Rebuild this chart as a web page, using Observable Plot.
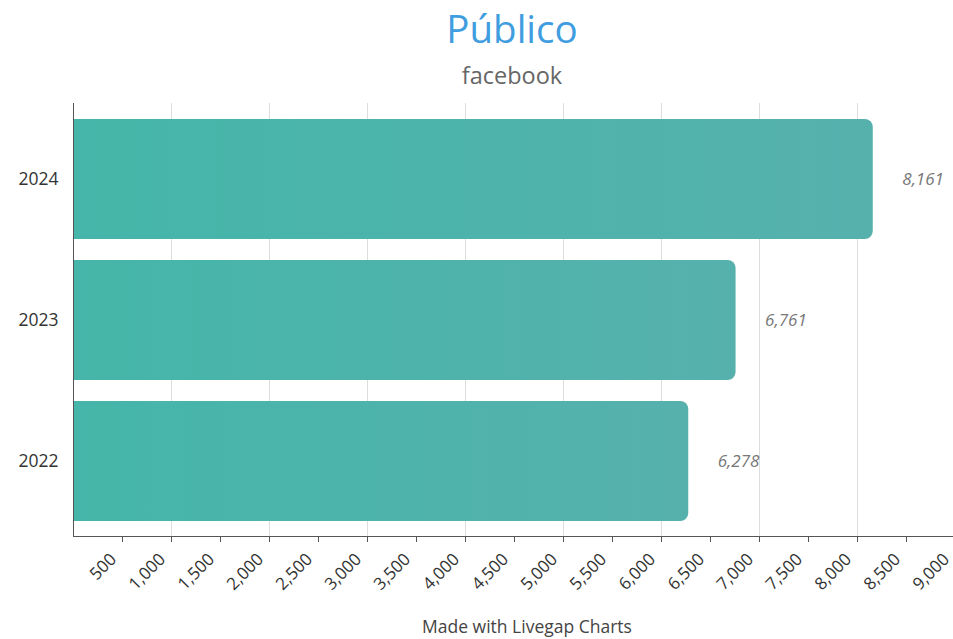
<!DOCTYPE html>
<html>
<head>
<meta charset="utf-8">
<script src="https://cdn.jsdelivr.net/npm/d3@7"></script>
<script src="https://cdn.jsdelivr.net/npm/@observablehq/plot@0.6"></script>
<style>
  body { margin: 0; background: #fff; font-family: "Open Sans", sans-serif; }
  #wrap { width: 953px; height: 639px; position: relative; overflow: hidden; }
  .title { position: absolute; top: 2px; left: 73px; width: 878px; text-align: center; font-size: 38.5px; line-height: 52px; color: #3f9de0; }
  .subtitle { position: absolute; top: 60px; left: 73px; width: 878px; text-align: center; font-size: 23.5px; line-height: 30px; color: #666; }
  #chart { position: absolute; top: 95px; left: 0; }
  .caption { position: absolute; top: 613px; left: 73px; width: 908px; text-align: center; font-size: 17.5px; line-height: 26px; color: #444; }
</style>
</head>
<body>
<div id="wrap">
  <div class="title">Público</div>
  <div class="subtitle">facebook</div>
  <div id="chart"></div>
  <div class="caption">Made with Livegap Charts</div>
</div>
<script>
const years = ["2024", "2023", "2022"];
const values = [8161, 6761, 6278];
const xTicks = [500, 1000, 1500, 2000, 2500, 3000, 3500, 4000, 4500, 5000, 5500, 6000, 6500, 7000, 7500, 8000, 8500, 9000];
const gridTicks = [1000, 2000, 3000, 4000, 5000, 6000, 7000, 8000];

const data = years.map((year, i) => ({year, value: values[i]}));
const fmt = d3.format(",");

const svg = Plot.plot({
  width: 953,
  height: 511,
  marginLeft: 73,
  marginRight: -2,
  marginTop: 8,
  marginBottom: 70,
  style: {fontFamily: "'Open Sans', sans-serif", color: "#333", background: "transparent", overflow: "visible"},
  x: {domain: [0, 9000]},
  y: {domain: years, paddingInner: 0.15, paddingOuter: 0.11},
  marks: [
    Plot.gridX(gridTicks, {stroke: "#ddd", strokeOpacity: 1}),
    Plot.barX(data, {x: "value", y: "year", fill: "url(#barGrad)", rx2: 8}),
    Plot.text(data, {x: "value", y: "year", text: d => fmt(d.value), dx: 29, textAnchor: "start", fill: "#777", fontStyle: "italic", fontSize: 17}),
    Plot.ruleX([0], {stroke: "#555"}),
    Plot.frame({anchor: "bottom", stroke: "#555"}),
    Plot.axisX({ticks: xTicks, tickFormat: fmt, tickRotate: -45, tickSize: 6, text: null, stroke: "#555", label: null}),
    Plot.axisX({ticks: xTicks, tickFormat: fmt, tickRotate: -45, tickSize: 0, tickPadding: 20, dx: -9, fontSize: 17, fill: "#333", label: null}),
    Plot.axisY({tickSize: 0, tickPadding: 15, fontSize: 17.5, fill: "#333", label: null})
  ]
});

const ns = "http://www.w3.org/2000/svg";
const defs = document.createElementNS(ns, "defs");
const grad = document.createElementNS(ns, "linearGradient");
grad.setAttribute("id", "barGrad");
grad.setAttribute("x1", "0"); grad.setAttribute("x2", "1");
grad.setAttribute("y1", "0"); grad.setAttribute("y2", "0");
[["0", "#45b6a9"], ["1", "#56b1ad"]].forEach(([o, c]) => {
  const s = document.createElementNS(ns, "stop");
  s.setAttribute("offset", o);
  s.setAttribute("stop-color", c);
  grad.appendChild(s);
});
defs.appendChild(grad);
svg.insertBefore(defs, svg.firstChild);

document.getElementById("chart").appendChild(svg);
</script>
</body>
</html>
